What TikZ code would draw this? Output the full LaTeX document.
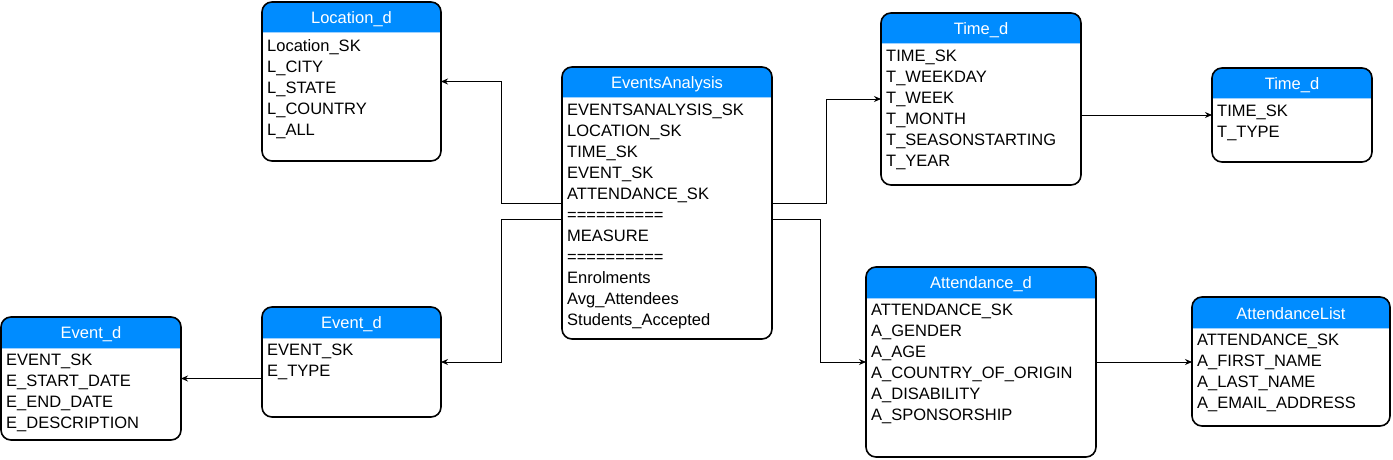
\documentclass[tikz,border=0pt]{standalone}
\usepackage{fontspec}
\setmainfont{Liberation Sans}
\usepackage{tikz}
\usetikzlibrary{backgrounds, arrows.meta}

\definecolor{hdrblue}{HTML}{008CFF}
\definecolor{seplight}{HTML}{9FD2FF}

\begin{document}
\begin{tikzpicture}[x=1pt, y=-1pt,
  tbl/.style={draw, line width=1.6pt, rounded corners=10pt, inner sep=0pt, outer sep=0pt, anchor=north west},
  ttl/.style={text=white, inner sep=0pt, font=\fontsize{16.5}{21}\selectfont},
  rows/.style={anchor=north west, align=left, inner sep=0pt, font=\fontsize{16.5}{21}\selectfont},
  link/.style={line width=0.9pt, -{Stealth[length=7pt, width=6pt]}}]

\useasboundingbox (0,0) rectangle (1393,460);

% Tables
\node[tbl, minimum width=179pt, minimum height=159pt] (loc) at (262,2) {};
\node[tbl, minimum width=210pt, minimum height=272pt] (ea) at (562,67) {};
\node[tbl, minimum width=200pt, minimum height=172pt] (t1) at (881,13) {};
\node[tbl, minimum width=160pt, minimum height=94pt] (t2) at (1212,68) {};
\node[tbl, minimum width=230pt, minimum height=190pt] (att) at (866,267) {};
\node[tbl, minimum width=198pt, minimum height=129pt] (al) at (1192,297) {};
\node[tbl, minimum width=179pt, minimum height=110pt] (evm) at (262,307) {};
\node[tbl, minimum width=180pt, minimum height=123pt] (evl) at (1,317) {};

% Headers
\begin{scope}[on background layer]
\foreach \n in {loc,ea,t1,t2,att,al,evm,evl} {
  \fill[hdrblue] ([yshift=-31pt]\n.north west) [rounded corners=10pt] -- (\n.north west) -- (\n.north east) [sharp corners] -- ([yshift=-31pt]\n.north east) -- cycle;
  \draw[seplight, line width=1pt] ([yshift=-31pt]\n.north west) -- ([yshift=-31pt]\n.north east);
}
\end{scope}

% Titles
\node[ttl] (locT) at ([yshift=-17pt]loc.north) {Location\_d};
\node[ttl] (eaT) at ([yshift=-17pt]ea.north) {EventsAnalysis};
\node[ttl] (t1T) at ([yshift=-17pt]t1.north) {Time\_d};
\node[ttl] (t2T) at ([yshift=-17pt]t2.north) {Time\_d};
\node[ttl] (attT) at ([yshift=-17pt]att.north) {Attendance\_d};
\node[ttl] (alT) at ([yshift=-17pt]al.north) {AttendanceList};
\node[ttl] (evmT) at ([yshift=-17pt]evm.north) {Event\_d};
\node[ttl] (evlT) at ([yshift=-17pt]evl.north) {Event\_d};

% Rows
\node[rows] (locR) at ([xshift=5pt, yshift=-37pt]loc.north west)
  {Location\_SK\\L\_CITY\\L\_STATE\\L\_COUNTRY\\L\_ALL};
\node[rows] (eaR) at ([xshift=5pt, yshift=-37pt]ea.north west)
  {EVENTSANALYSIS\_SK\\LOCATION\_SK\\TIME\_SK\\EVENT\_SK\\ATTENDANCE\_SK\\==========\\MEASURE\\==========\\Enrolments\\Avg\_Attendees\\Students\_Accepted};
\node[rows] (t1R) at ([xshift=5pt, yshift=-37pt]t1.north west)
  {TIME\_SK\\T\_WEEKDAY\\T\_WEEK\\T\_MONTH\\T\_SEASONSTARTING\\T\_YEAR};
\node[rows] (t2R) at ([xshift=5pt, yshift=-37pt]t2.north west)
  {TIME\_SK\\T\_TYPE};
\node[rows] (attR) at ([xshift=5pt, yshift=-37pt]att.north west)
  {ATTENDANCE\_SK\\A\_GENDER\\A\_AGE\\A\_COUNTRY\_OF\_ORIGIN\\A\_DISABILITY\\A\_SPONSORSHIP};
\node[rows] (alR) at ([xshift=5pt, yshift=-37pt]al.north west)
  {ATTENDANCE\_SK\\A\_FIRST\_NAME\\A\_LAST\_NAME\\A\_EMAIL\_ADDRESS};
\node[rows] (evmR) at ([xshift=5pt, yshift=-37pt]evm.north west)
  {EVENT\_SK\\E\_TYPE};
\node[rows] (evlR) at ([xshift=5pt, yshift=-37pt]evl.north west)
  {EVENT\_SK\\E\_START\_DATE\\E\_END\_DATE\\E\_DESCRIPTION};

% Links
\draw[link] (ea.west) -- ++(-61,0) |- (loc.east);
\draw[link] ([yshift=-16pt]ea.west) -- ++(-61,0) |- (evm.east);
\draw[link] (evm.west |- evl.east) -- (evl.east);
\draw[link] (ea.east) -- ++(54,0) |- (t1.west);
\draw[link] (t1.east |- t2.west) -- (t2.west);
\draw[link] ([yshift=-16pt]ea.east) -- ++(48,0) |- (att.west);
\draw[link] (att.east) -- (att.east -| al.west);

\end{tikzpicture}
\end{document}
